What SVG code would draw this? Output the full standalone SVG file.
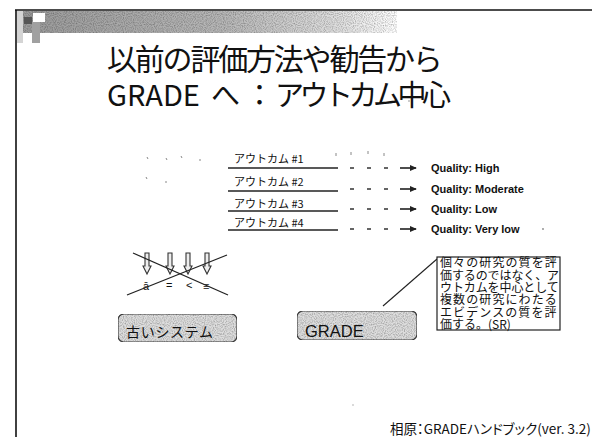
<svg xmlns="http://www.w3.org/2000/svg" width="592" height="437" viewBox="0 0 592 437">
<defs>
<linearGradient id="band" x1="0" y1="0" x2="1" y2="0">
<stop offset="0" stop-color="#9a9a9a"/>
<stop offset="0.55" stop-color="#b8b8b8"/>
<stop offset="0.85" stop-color="#e0e0e0"/>
<stop offset="1" stop-color="#ffffff"/>
</linearGradient>
<filter id="grain" x="0" y="0" width="1" height="1">
<feTurbulence type="fractalNoise" baseFrequency="0.9" numOctaves="1" seed="3" result="n"/>
<feColorMatrix in="n" type="matrix" values="0 0 0 0 0  0 0 0 0 0  0 0 0 0 0  0 0 0 -1.2 0.75" result="a"/>
<feComposite in="a" in2="SourceGraphic" operator="in" result="d"/>
<feBlend in="SourceGraphic" in2="d" mode="multiply"/>
</filter>
<marker id="ah" viewBox="0 0 8 8" refX="7" refY="4" markerWidth="7" markerHeight="7" markerUnits="userSpaceOnUse" orient="auto">
<path d="M0,0.5 L8,4 L0,7.5 Z" fill="#222"/>
</marker>
</defs>
<style>
.jp{font-family:"Noto Sans CJK JP","Liberation Sans",sans-serif;fill:#111}
.lat{font-family:"Liberation Sans","Noto Sans CJK JP",sans-serif;fill:#111}
.q{font-family:"Liberation Sans",sans-serif;font-weight:bold;font-size:11px;fill:#111}
.oc{font-family:"Noto Sans CJK JP","Liberation Sans",sans-serif;font-size:11px;fill:#111}
.ul{stroke:#222;stroke-width:1.7;fill:none}
.dash{stroke:#333;stroke-width:1.6;fill:none;stroke-dasharray:4 13}
.box{fill:#dedede;stroke:#444;stroke-width:1.2}
.dn{fill:#eee;stroke:#333;stroke-width:1.1}
.speck{stroke:#888;stroke-width:1;fill:none}
.palt{font-feature-settings:"palt"}
</style>
<rect width="592" height="437" fill="#fff"/>
<g id="frame">
<rect x="17" y="11" width="380" height="22" fill="url(#band)" filter="url(#grain)"/>
<rect x="17" y="11" width="6" height="32" fill="#d4d4d4"/>
<rect x="33" y="13" width="12" height="9" fill="#fff"/>
<rect x="24" y="17" width="8" height="7" fill="#555"/>
<rect x="32" y="22" width="8" height="21" fill="#a0a0a0"/>
<line x1="15" y1="10" x2="592" y2="10" stroke="#111" stroke-width="1.6"/>
<line x1="16" y1="10" x2="16" y2="437" stroke="#111" stroke-width="1.6"/>
</g>
<g id="title">
<text class="jp" x="107" y="70" font-size="30" letter-spacing="-2.2">以前の評価方法や勧告から</text>
<text class="jp" y="106" font-size="29"><tspan x="107">GRADE</tspan><tspan x="211">へ</tspan><tspan x="245">：</tspan><tspan x="275" letter-spacing="-4.5">アウトカム中心</tspan></text>
</g>
<g id="outcomes">
<text class="oc" x="234" y="163">アウトカム  #1</text>
<text class="oc" x="234" y="186">アウトカム  #2</text>
<text class="oc" x="234" y="208">アウトカム  #3</text>
<text class="oc" x="234" y="227">アウトカム  #4</text>
</g>
<g id="quality">
<text class="q" x="431" y="172">Quality: High</text>
<text class="q" x="431" y="193">Quality: Moderate</text>
<text class="q" x="431" y="213">Quality: Low</text>
<text class="q" x="431" y="233">Quality: Very low</text>
</g>
<g id="connectors">
<path class="ul" d="M228,168 L338,168"/>
<path class="ul" d="M228,191 L338,191"/>
<path class="ul" d="M228,211 L338,211"/>
<path class="ul" d="M228,230 L338,230"/>
<path class="dash" d="M350,168 L392,168"/>
<path class="dash" d="M350,189 L392,189"/>
<path class="dash" d="M350,209 L392,209"/>
<path class="dash" d="M350,229 L392,229"/>
<path d="M400,168 L416,168" stroke="#222" stroke-width="1.6" marker-end="url(#ah)"/>
<path d="M400,189 L416,189" stroke="#222" stroke-width="1.6" marker-end="url(#ah)"/>
<path d="M400,209 L416,209" stroke="#222" stroke-width="1.6" marker-end="url(#ah)"/>
<path d="M400,229 L416,229" stroke="#222" stroke-width="1.6" marker-end="url(#ah)"/>
<line x1="383" y1="306" x2="437" y2="259" stroke="#222" stroke-width="1.1"/>
</g>
<g id="specks">
<path class="speck" d="M147,157 l1,2 M166,158 l1,2 M181,156 l1,2 M200,159 l0,2 M146,177 l1,2 M166,181 l0,2 M336,153 l0,3 M351,152 l0,3 M368,151 l0,3 M384,153 l0,3"/>
<circle cx="409" cy="101" r="0.8" fill="#888"/>
<circle cx="543" cy="229" r="0.9" fill="#888"/>
<circle cx="353" cy="405" r="0.7" fill="#999"/>
</g>
<g id="old-diagram">
<path class="dn" d="M145,253 h4 v13 h2 l-4,8 l-4,-8 h2 z"/>
<path class="dn" d="M168,253 h4 v13 h2 l-4,8 l-4,-8 h2 z"/>
<path class="dn" d="M186,253 h4 v13 h2 l-4,8 l-4,-8 h2 z"/>
<path class="dn" d="M205,253 h4 v13 h2 l-4,8 l-4,-8 h2 z"/>
<text class="lat" font-size="11" x="143" y="290">ā</text>
<text class="lat" font-size="11" x="166" y="289">=</text>
<text class="lat" font-size="11" x="186" y="289">&lt;</text>
<text class="lat" font-size="11" x="203" y="290">≡</text>
<line x1="133" y1="253" x2="228" y2="295" stroke="#222" stroke-width="1.2"/>
<line x1="127" y1="295" x2="227" y2="255" stroke="#222" stroke-width="1.2"/>
</g>
<g id="old-system">
<rect class="box" x="118" y="314" width="119" height="28" rx="6" filter="url(#grain)"/>
<text class="jp" x="126" y="337" font-size="14" letter-spacing="0.7">古いシステム</text>
</g>
<g id="grade">
<rect class="box" x="297" y="311" width="120" height="29" rx="6" filter="url(#grain)"/>
<text class="lat" x="305" y="337" font-size="16.5">GRADE</text>
</g>
<g id="callout">
<rect x="437" y="257" width="123" height="73" fill="#fff" stroke="#222" stroke-width="1.2"/>
<text class="jp" font-size="12">
<tspan x="440" y="267" letter-spacing="1.1">個々の研究の質を評</tspan>
<tspan x="440" y="280" letter-spacing="-0.1">価するのではなく、ア</tspan>
<tspan x="440" y="292" letter-spacing="-0.1">ウトカムを中心として</tspan>
<tspan x="440" y="304" letter-spacing="1.1">複数の研究にわたる</tspan>
<tspan x="440" y="317" letter-spacing="1.1">エビデンスの質を評</tspan>
<tspan x="440" y="329">価する。(SR)</tspan>
</text>
</g>
<g id="footer">
<text class="jp palt" x="390" y="434" font-size="13.5">相原：GRADEハンドブック(ver. 3.2)</text>
</g>
</svg>
